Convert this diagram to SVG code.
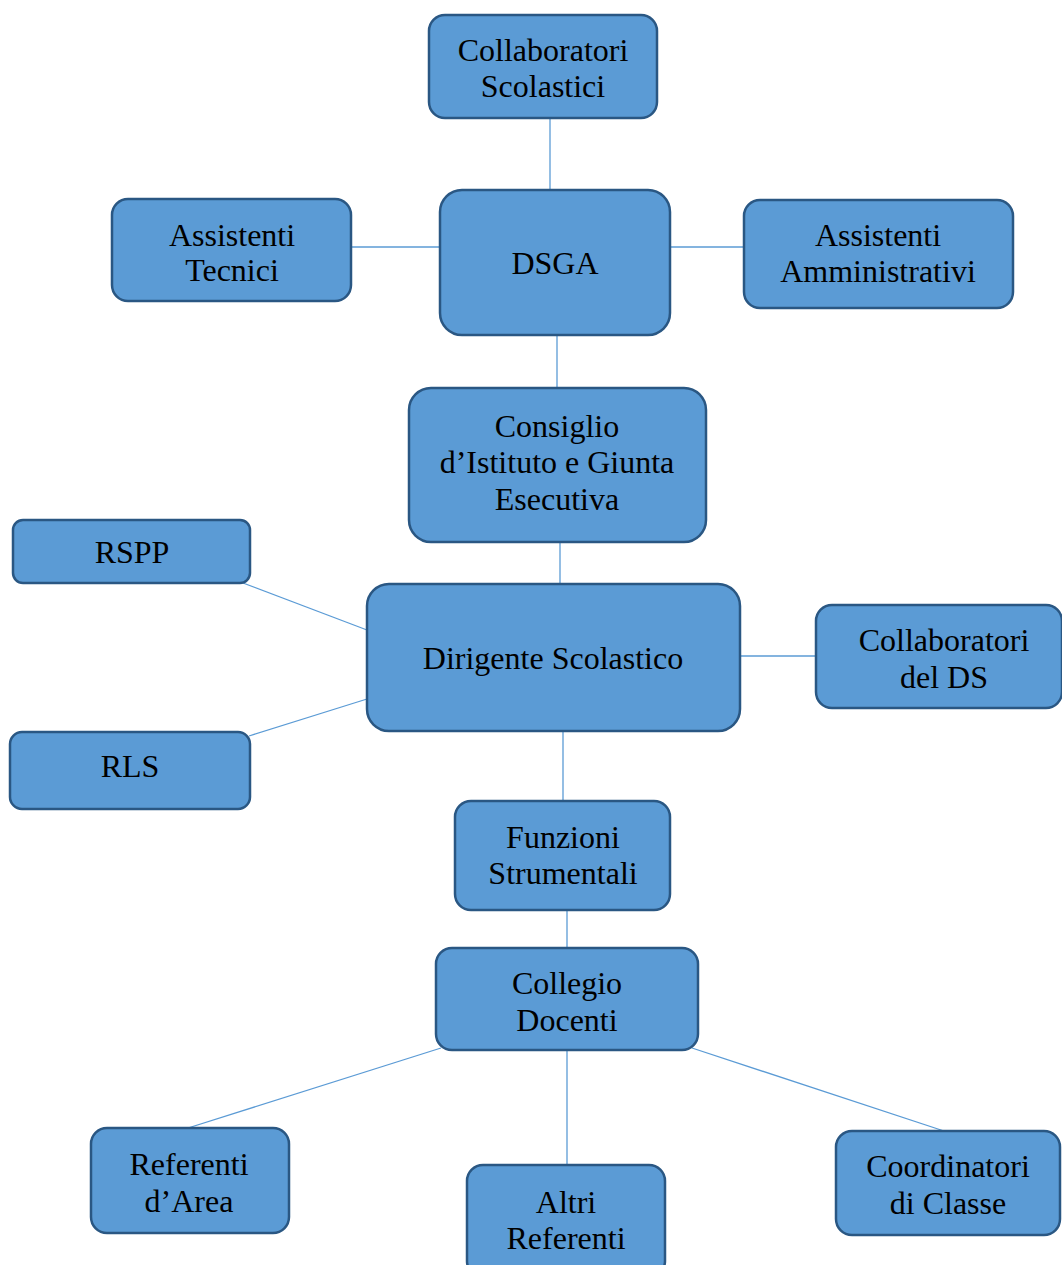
<svg xmlns="http://www.w3.org/2000/svg" width="1062" height="1265" viewBox="0 0 1062 1265">
<style>
.box{fill:#5B9BD5;stroke:#2A5783;stroke-width:2.5}
.lbl{font-family:'Liberation Serif','Times New Roman',serif;font-size:32px;fill:#000;text-anchor:middle}
.con line{stroke:#5B9BD5;stroke-width:1.3}
</style>
<rect width="1062" height="1265" fill="#fff"/>
<g class="con">
<line x1="550" y1="118" x2="550" y2="190"/>
<line x1="351" y1="247" x2="440" y2="247"/>
<line x1="670" y1="247" x2="744" y2="247"/>
<line x1="557" y1="335" x2="557" y2="388"/>
<line x1="560" y1="542" x2="560" y2="584"/>
<line x1="243" y1="583" x2="367" y2="630"/>
<line x1="249" y1="736" x2="367" y2="699"/>
<line x1="740" y1="656" x2="816" y2="656"/>
<line x1="563" y1="731" x2="563" y2="801"/>
<line x1="567" y1="910" x2="567" y2="948"/>
<line x1="441" y1="1048" x2="188" y2="1128"/>
<line x1="567" y1="1050" x2="567" y2="1165"/>
<line x1="692" y1="1048" x2="944" y2="1131"/>
</g>
<g id="collab-scol"><rect class="box" x="429" y="15" width="228" height="103" rx="16"/><text class="lbl" x="543" y="61">Collaboratori</text><text class="lbl" x="543" y="97">Scolastici</text></g>
<g id="dsga"><rect class="box" x="440" y="190" width="230" height="145" rx="22"/><text class="lbl" x="555" y="274">DSGA</text></g>
<g id="ass-tec"><rect class="box" x="112" y="199" width="239" height="102" rx="16"/><text class="lbl" x="232" y="246">Assistenti</text><text class="lbl" x="232" y="281">Tecnici</text></g>
<g id="ass-amm"><rect class="box" x="744" y="200" width="269" height="108" rx="16"/><text class="lbl" x="878" y="246">Assistenti</text><text class="lbl" x="878" y="282">Amministrativi</text></g>
<g id="consiglio"><rect class="box" x="409" y="388" width="297" height="154" rx="22"/><text class="lbl" x="557" y="437">Consiglio</text><text class="lbl" x="557" y="473">d’Istituto e Giunta</text><text class="lbl" x="557" y="510">Esecutiva</text></g>
<g id="rspp"><rect class="box" x="13" y="520" width="237" height="63" rx="10"/><text class="lbl" x="132" y="563">RSPP</text></g>
<g id="ds"><rect class="box" x="367" y="584" width="373" height="147" rx="22"/><text class="lbl" x="553" y="669">Dirigente Scolastico</text></g>
<g id="collab-ds"><rect class="box" x="816" y="605" width="246" height="103" rx="16"/><text class="lbl" x="944" y="651">Collaboratori</text><text class="lbl" x="944" y="688">del DS</text></g>
<g id="rls"><rect class="box" x="10" y="732" width="240" height="77" rx="12"/><text class="lbl" x="130" y="777">RLS</text></g>
<g id="funzioni"><rect class="box" x="455" y="801" width="215" height="109" rx="16"/><text class="lbl" x="563" y="848">Funzioni</text><text class="lbl" x="563" y="884">Strumentali</text></g>
<g id="collegio"><rect class="box" x="436" y="948" width="262" height="102" rx="16"/><text class="lbl" x="567" y="994">Collegio</text><text class="lbl" x="567" y="1031">Docenti</text></g>
<g id="ref-area"><rect class="box" x="91" y="1128" width="198" height="105" rx="16"/><text class="lbl" x="189" y="1175">Referenti</text><text class="lbl" x="189" y="1212">d’Area</text></g>
<g id="altri-ref"><rect class="box" x="467" y="1165" width="198" height="112" rx="16"/><text class="lbl" x="566" y="1213">Altri</text><text class="lbl" x="566" y="1249">Referenti</text></g>
<g id="coord"><rect class="box" x="836" y="1131" width="224" height="104" rx="16"/><text class="lbl" x="948" y="1177">Coordinatori</text><text class="lbl" x="948" y="1214">di Classe</text></g>
</svg>
